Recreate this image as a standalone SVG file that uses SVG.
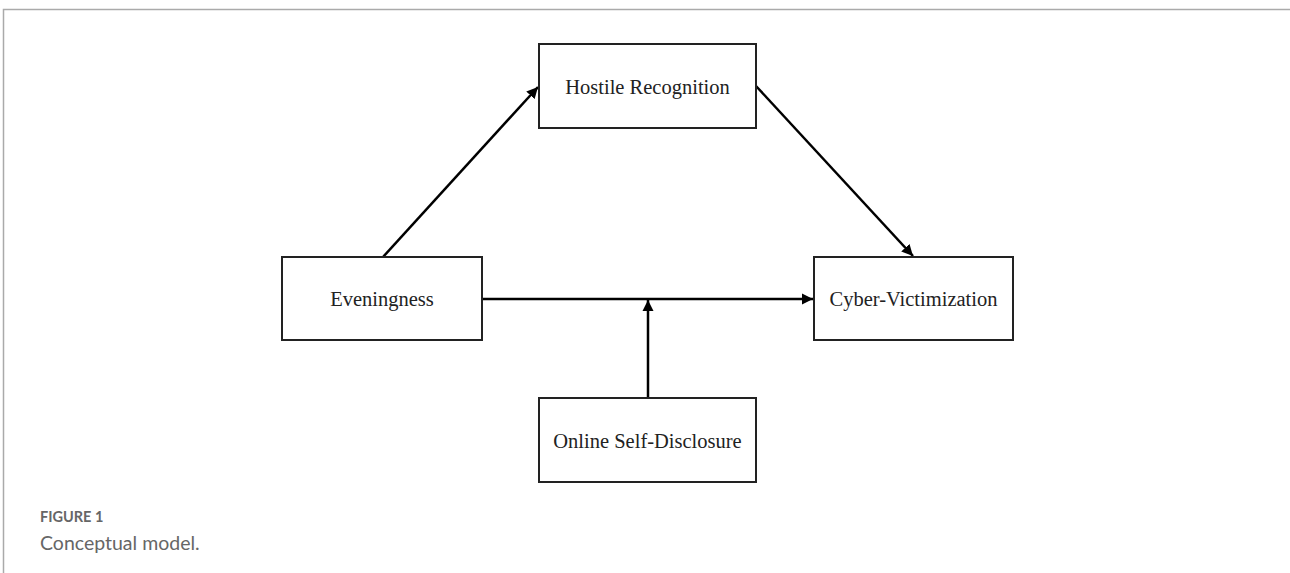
<svg xmlns="http://www.w3.org/2000/svg" width="1290" height="573" viewBox="0 0 1290 573">
<defs>
<marker id="ah" viewBox="0 0 10 10" refX="10" refY="5" markerWidth="4.5" markerHeight="4.5" orient="auto" markerUnits="strokeWidth">
<path d="M0,0 L10,5 L0,10 z" fill="#000"/>
</marker>
<style>
.box{fill:#fff;stroke:#222;stroke-width:2}
.lbl{font-family:"Liberation Serif","Times New Roman",serif;font-size:20.5px;fill:#222;text-anchor:middle}
.con{stroke:#000;stroke-width:2.5;fill:none;marker-end:url(#ah)}
.frame{stroke:#aaa;stroke-width:1.5;fill:none}
</style>
</defs>
<rect width="1290" height="573" fill="#fff"/>
<path class="frame" d="M1290,9.5 H3.5 V573"/>
<g id="connectors">
<line class="con" x1="383" y1="257" x2="538" y2="87"/>
<line class="con" x1="756" y1="86" x2="913" y2="256"/>
<line class="con" x1="482" y1="299" x2="813" y2="299"/>
<line class="con" x1="648" y1="398" x2="648" y2="300"/>
</g>
<g id="hostile">
<rect class="box" x="539" y="44" width="217" height="84"/>
<text class="lbl" x="647.5" y="94">Hostile Recognition</text>
</g>
<g id="eveningness">
<rect class="box" x="282" y="257" width="200" height="83"/>
<text class="lbl" x="382" y="306">Eveningness</text>
</g>
<g id="cyber">
<rect class="box" x="814" y="257" width="199" height="83"/>
<text class="lbl" x="913.5" y="306">Cyber-Victimization</text>
</g>
<g id="online">
<rect class="box" x="539" y="398" width="217" height="84"/>
<text class="lbl" x="647.5" y="448">Online Self-Disclosure</text>
</g>
<g id="caption">
<text x="40" y="522" font-family="Lato,'Open Sans',sans-serif" font-size="14.5" font-weight="bold" fill="#666">FIGURE 1</text>
<text x="40" y="550" font-family="Lato,'Open Sans',sans-serif" font-size="19.5" fill="#666">Conceptual model.</text>
</g>
</svg>
